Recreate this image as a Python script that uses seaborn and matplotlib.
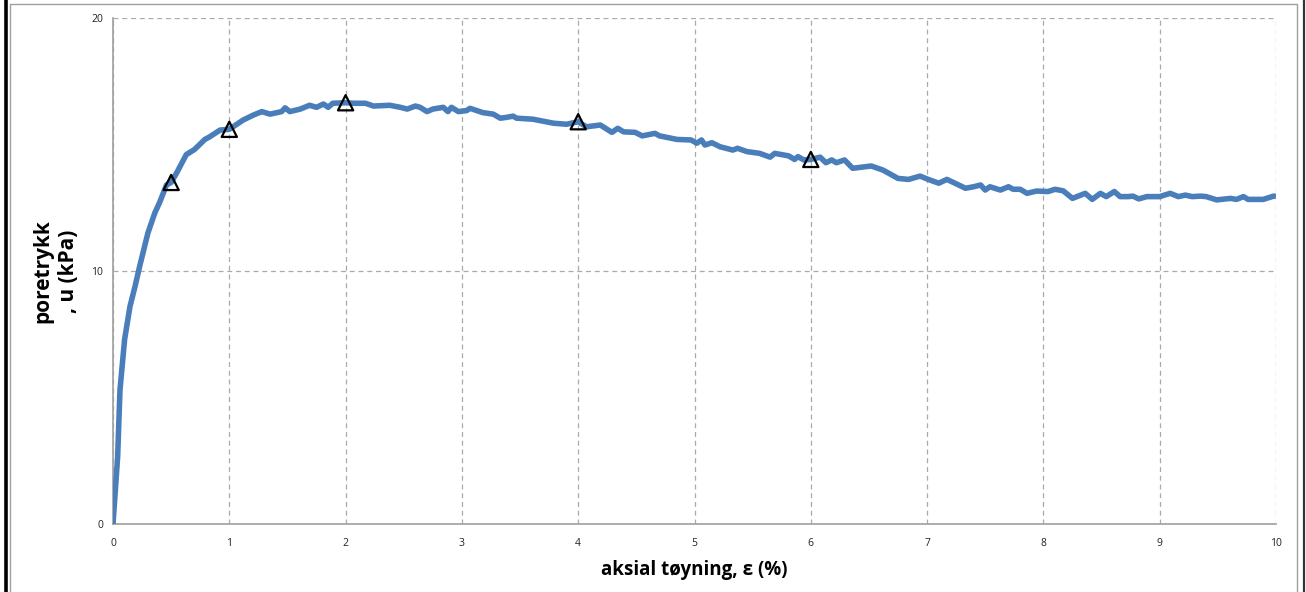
import matplotlib
matplotlib.use("Agg")
import matplotlib.pyplot as plt
from matplotlib.lines import Line2D
import seaborn as sns
import pandas as pd

strain = [0.0, 0.04, 0.06, 0.10, 0.146, 0.19, 0.23, 0.30, 0.36, 0.40, 0.46, 0.50, 0.55, 0.63, 0.70, 0.79,
          0.83, 0.92, 1.0, 1.12, 1.21, 1.28, 1.35, 1.45, 1.48, 1.52, 1.61, 1.69, 1.75, 1.81, 1.85, 1.89,
          2.0, 2.07, 2.17, 2.24, 2.38, 2.47, 2.53, 2.60, 2.64, 2.70, 2.75, 2.84, 2.88, 2.91, 2.97, 3.04,
          3.07, 3.18, 3.27, 3.33, 3.38, 3.44, 3.47, 3.61, 3.79, 3.90, 3.96, 4.0, 4.07, 4.19, 4.29, 4.34,
          4.39, 4.49, 4.55, 4.66, 4.70, 4.85, 4.97, 5.02, 5.06, 5.09, 5.15, 5.22, 5.33, 5.37, 5.45, 5.56,
          5.65, 5.69, 5.81, 5.86, 5.89, 5.94, 6.0, 6.08, 6.13, 6.18, 6.22, 6.29, 6.36, 6.52, 6.62, 6.75,
          6.84, 6.94, 7.01, 7.10, 7.17, 7.24, 7.33, 7.40, 7.46, 7.50, 7.54, 7.63, 7.70, 7.74, 7.80, 7.86,
          7.94, 8.04, 8.10, 8.17, 8.25, 8.36, 8.42, 8.49, 8.54, 8.61, 8.66, 8.73, 8.77, 8.82, 8.89, 9.0,
          9.09, 9.16, 9.22, 9.28, 9.35, 9.40, 9.49, 9.61, 9.66, 9.72, 9.76, 9.89, 9.98, 10.0]
pore_pressure = [0.0, 2.66, 5.3, 7.3, 8.6, 9.4, 10.2, 11.5, 12.3, 12.7, 13.4, 13.5, 13.9, 14.6, 14.8, 15.2,
                 15.3, 15.57, 15.6, 15.97, 16.17, 16.3, 16.2, 16.3, 16.45, 16.3, 16.4, 16.55, 16.47, 16.6, 16.47, 16.63,
                 16.65, 16.63, 16.63, 16.52, 16.55, 16.47, 16.4, 16.52, 16.47, 16.3, 16.4, 16.47, 16.3, 16.47, 16.3, 16.34,
                 16.43, 16.26, 16.2, 16.04, 16.07, 16.12, 16.04, 16.0, 15.84, 15.8, 15.86, 15.9, 15.7, 15.77, 15.48, 15.64,
                 15.5, 15.48, 15.34, 15.44, 15.34, 15.2, 15.18, 15.05, 15.18, 14.98, 15.07, 14.91, 14.78, 14.85, 14.72, 14.65,
                 14.5, 14.65, 14.55, 14.41, 14.52, 14.39, 14.41, 14.5, 14.28, 14.39, 14.28, 14.39, 14.06, 14.15, 13.99, 13.66,
                 13.62, 13.75, 13.62, 13.47, 13.62, 13.47, 13.27, 13.33, 13.4, 13.2, 13.33, 13.2, 13.33, 13.23, 13.23, 13.07,
                 13.16, 13.14, 13.23, 13.17, 12.87, 13.07, 12.83, 13.07, 12.94, 13.14, 12.94, 12.94, 12.96, 12.85, 12.94, 12.94,
                 13.07, 12.94, 13.0, 12.94, 12.96, 12.94, 12.81, 12.87, 12.83, 12.94, 12.83, 12.83, 12.96, 12.95]

marker_strain = [0.5, 1.0, 2.0, 4.0, 6.0]
marker_pressure = [13.5, 15.6, 16.65, 15.9, 14.41]

x_ticks = [0, 1, 2, 3, 4, 5, 6, 7, 8, 9, 10]
y_ticks = [0, 10, 20]

sns.set_theme(style="white")
plt.rcParams['font.family'] = ['Open Sans', 'DejaVu Sans']

df = pd.DataFrame({"strain": strain, "u": pore_pressure})
dm = pd.DataFrame({"strain": marker_strain, "u": marker_pressure})

fig = plt.figure(figsize=(13.06, 5.92), dpi=100)
ax = fig.add_axes([113 / 1306, 1 - 524 / 592, (1276 - 113) / 1306, (524 - 18) / 592])

sns.lineplot(data=df, x="strain", y="u", ax=ax, sort=False, color="#4A7EBB", linewidth=4.0,
             solid_joinstyle="round", solid_capstyle="butt", zorder=3)
sns.scatterplot(data=dm, x="strain", y="u", ax=ax, marker="^", s=120, facecolor="none",
                edgecolor="black", linewidth=1.6, zorder=4)

ax.set_xlim(0, 10)
ax.set_ylim(0, 20)
ax.set_xticks(x_ticks)
ax.set_yticks(y_ticks)
ax.set_xticklabels([str(t) for t in x_ticks])
ax.set_yticklabels([str(t) for t in y_ticks])
ax.tick_params(axis="both", length=0, labelsize=7.5, colors="#222222", pad=10)
ax.tick_params(axis="y", pad=7)

ax.grid(True, linestyle=(0, (4, 3)), color="#AAAAAA", linewidth=0.9)
ax.set_axisbelow(True)
for side in ["top", "right"]:
    ax.spines[side].set_visible(False)
for side in ["left", "bottom"]:
    ax.spines[side].set_color("#A0A0A0")
    ax.spines[side].set_linewidth(1.2)

ax.set_xlabel("aksial tøyning, ε (%)", fontsize=13.5, fontweight="bold", labelpad=8, color="black")
ax.set_ylabel("poretrykk\n, u (kPa)", fontsize=15, fontweight="bold", labelpad=9, color="black",
              linespacing=1.28)

# outer frame pieces from the screenshot
fig.add_artist(Line2D([6 / 1306, 6 / 1306], [0, 1], color="black", linewidth=2.6))
fig.add_artist(Line2D([9.5 / 1306, 9.5 / 1306], [0, 1 - 3.5 / 592], color="#A0A0A0", linewidth=1.0))
fig.add_artist(Line2D([9.5 / 1306, 1296.5 / 1306], [1 - 3.5 / 592, 1 - 3.5 / 592], color="#A0A0A0", linewidth=1.0))
fig.add_artist(Line2D([1296.5 / 1306, 1296.5 / 1306], [0, 1 - 3.5 / 592], color="#A0A0A0", linewidth=1.0))
fig.add_artist(Line2D([1303.5 / 1306, 1303.5 / 1306], [0, 1], color="#333333", linewidth=1.6))

fig.savefig("out.png", dpi=100)
